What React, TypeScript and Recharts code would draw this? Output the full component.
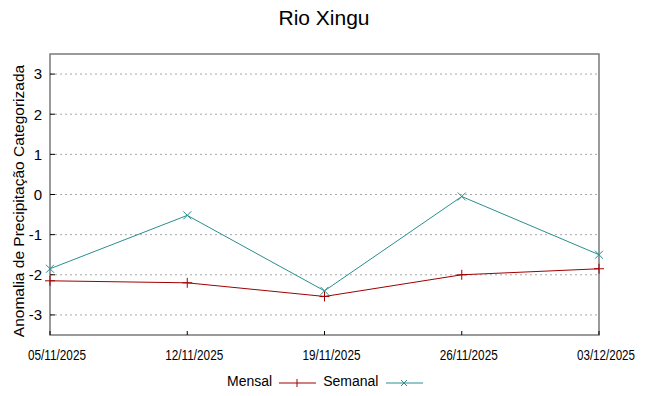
import React from 'react';
import { LineChart, Line, XAxis, YAxis, CartesianGrid, ReferenceArea } from 'recharts';

const dates = ['05/11/2025', '12/11/2025', '19/11/2025', '26/11/2025', '03/12/2025'];
const mensal = [-2.15, -2.2, -2.54, -2.0, -1.85];
const semanal = [-1.85, -0.52, -2.4, -0.05, -1.5];
const yTicks = [-3, -2, -1, 0, 1, 2, 3];

const RED = '#a00000';
const TEAL = '#2a8e8e';
const FRAME = '#7a7a7a';
const FONT = '"Liberation Sans", Arial, sans-serif';

const data = dates.map((d, i) => ({ date: d, mensal: mensal[i], semanal: semanal[i] }));

const PlusDot = (props: any) => {
  const { cx, cy } = props;
  if (cx == null || cy == null) return null;
  return (
    <g stroke={RED} strokeWidth={1}>
      <line x1={cx - 5} y1={cy} x2={cx + 5} y2={cy} />
      <line x1={cx} y1={cy - 5} x2={cx} y2={cy + 5} />
    </g>
  );
};

const CrossDot = (props: any) => {
  const { cx, cy } = props;
  if (cx == null || cy == null) return null;
  return (
    <g stroke={TEAL} strokeWidth={1}>
      <line x1={cx - 4} y1={cy - 4} x2={cx + 4} y2={cy + 4} />
      <line x1={cx - 4} y1={cy + 4} x2={cx + 4} y2={cy - 4} />
    </g>
  );
};

// narrow date labels, nudged right like the original
const DateTick = (props: any) => {
  const { x, y, payload } = props;
  return (
    <text
      x={x}
      y={y}
      dx={7}
      dy={5}
      textAnchor="middle"
      fontSize={14}
      fontFamily={FONT}
      fill="#000"
      textLength={58}
      lengthAdjust="spacingAndGlyphs"
    >
      {payload.value}
    </text>
  );
};

const LegendBox = () => (
  <div
    style={{
      position: 'absolute',
      left: 227,
      top: 373,
      display: 'flex',
      fontFamily: FONT,
      fontSize: 14,
      color: '#000',
    }}
  >
    <span>Mensal</span>
    <svg width={51} height={20} style={{ marginTop: -1 }}>
      <line x1={7} y1={11} x2={44} y2={11} stroke={RED} />
      <line x1={25} y1={7} x2={25} y2={15} stroke={RED} />
    </svg>
    <span>Semanal</span>
    <svg width={50} height={20} style={{ marginTop: -1 }}>
      <line x1={8} y1={11} x2={45} y2={11} stroke={TEAL} />
      <line x1={23} y1={8} x2={29} y2={14} stroke={TEAL} />
      <line x1={23} y1={14} x2={29} y2={8} stroke={TEAL} />
    </svg>
  </div>
);

export default function App() {
  return (
    <div style={{ position: 'absolute', left: 0, top: 0, width: 648, height: 396, background: '#fff' }}>
      <div
        style={{
          position: 'absolute',
          left: 0,
          top: 6,
          width: 648,
          textAlign: 'center',
          fontFamily: FONT,
          fontSize: 21,
        }}
      >
        Rio Xingu
      </div>
      <div
        style={{
          position: 'absolute',
          left: 19,
          top: 201,
          transform: 'translate(-50%, -50%) rotate(-90deg)',
          whiteSpace: 'nowrap',
          fontFamily: FONT,
          fontSize: 15.5,
        }}
      >
        Anomalia de Precipitação Categorizada
      </div>
      <LineChart
        width={648}
        height={396}
        data={data}
        margin={{ top: 54, right: 48, bottom: 31, left: 10 }}
      >
        <CartesianGrid vertical={false} stroke="#a8a8a8" strokeDasharray="2 3" horizontalValues={yTicks} />
        <XAxis
          dataKey="date"
          interval={0}
          axisLine={false}
          tickLine={{ stroke: '#000' }}
          tickSize={-4}
          tickMargin={24}
          height={30}
          tick={<DateTick />}
        />
        <YAxis
          domain={[-3.5, 3.5]}
          ticks={yTicks}
          width={40}
          axisLine={false}
          tickLine={{ stroke: '#000' }}
          tickSize={-5}
          tickMargin={13}
          tick={{ fill: '#000', fontSize: 15, fontFamily: FONT }}
        />
        <YAxis
          yAxisId="right"
          orientation="right"
          domain={[-3.5, 3.5]}
          ticks={yTicks}
          width={1}
          axisLine={false}
          tickLine={{ stroke: '#000' }}
          tickSize={-5}
          tick={() => <g />}
        />
        <ReferenceArea
          x1={dates[0]}
          x2={dates[dates.length - 1]}
          y1={-3.5}
          y2={3.5}
          fill="none"
          stroke={FRAME}
          strokeWidth={1.5}
          ifOverflow="visible"
        />
        <Line
          type="linear"
          dataKey="mensal"
          stroke={RED}
          strokeWidth={1}
          dot={<PlusDot />}
          activeDot={false}
          isAnimationActive={false}
        />
        <Line
          type="linear"
          dataKey="semanal"
          stroke={TEAL}
          strokeWidth={1}
          dot={<CrossDot />}
          activeDot={false}
          isAnimationActive={false}
        />
      </LineChart>
      <LegendBox />
    </div>
  );
}
